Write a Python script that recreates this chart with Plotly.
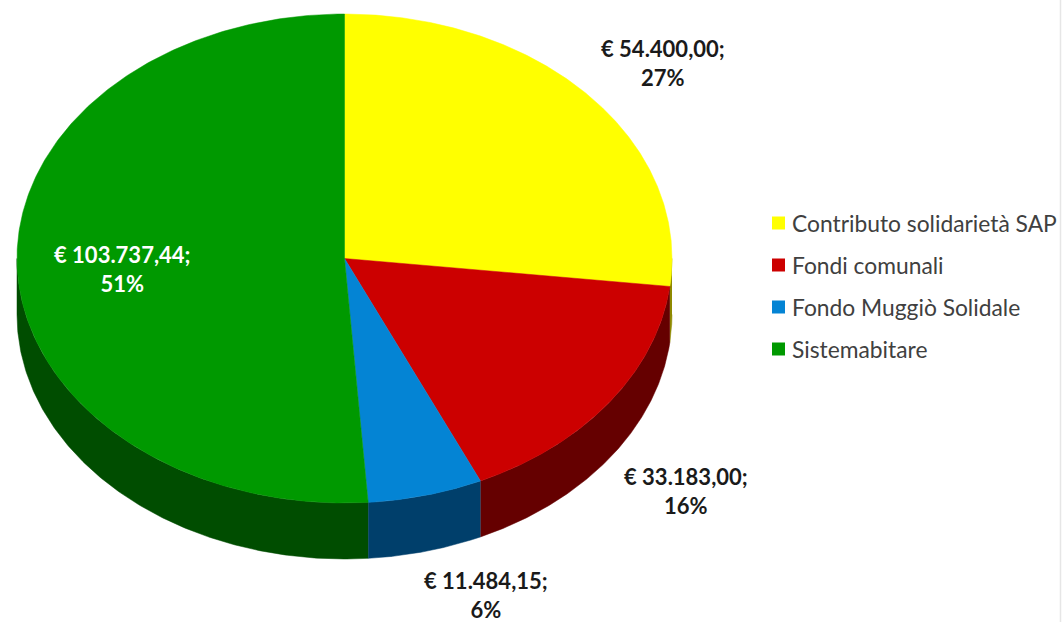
import numpy as np
import plotly.graph_objects as go

categories = ["Contributo solidarietà SAP", "Fondi comunali", "Fondo Muggiò Solidale", "Sistemabitare"]
values = [54400.00, 33183.00, 11484.15, 103737.44]
top_colors = ["#FFFF00", "#CC0000", "#0484D4", "#009900"]
side_colors = ["#8F8A00", "#650000", "#003F6B", "#004D00"]
label_colors = ["#1a1a1a", "#1a1a1a", "#1a1a1a", "#FFFFFF"]
label_pos = [(663, 63), (686, 491), (486, 595), (122, 269)]
legend_y = [223, 265, 307, 349]

CX, CY, RX, RY, DEPTH = 344.5, 258.5, 327.5, 244.5, 56


def rim(t, dy=0.0):
    return CX + RX * np.sin(t), CY - RY * np.cos(t) + dy


def euro(v):
    s = f"{v:,.2f}".replace(",", "X").replace(".", ",").replace("X", ".")
    return f"€ {s};"


fracs = np.array(values) / sum(values)
edges = np.concatenate([[0], np.cumsum(fracs)]) * 2 * np.pi

fig = go.Figure()

# side walls (only the front half of the rim is visible)
for i, col in enumerate(side_colors):
    a, b = max(edges[i], np.pi / 2), min(edges[i + 1], 3 * np.pi / 2)
    if b <= a:
        continue
    t = np.linspace(a, b, 200)
    x1, y1 = rim(t)
    x2, y2 = rim(t[::-1], DEPTH)
    fig.add_trace(go.Scatter(x=np.r_[x1, x2], y=np.r_[y1, y2], mode="lines", fill="toself",
                             fillcolor=col, line=dict(color=col, width=0.5),
                             hoverinfo="skip", showlegend=False))

# top faces
for i, col in enumerate(top_colors):
    t = np.linspace(edges[i], edges[i + 1], 300)
    x, y = rim(t)
    fig.add_trace(go.Scatter(x=np.r_[CX, x, CX], y=np.r_[CY, y, CY], mode="lines", fill="toself",
                             fillcolor=col, line=dict(color=col, width=0.5),
                             name=categories[i], text=f"{euro(values[i])} {fracs[i]*100:.0f}%",
                             hoverinfo="text", showlegend=False))

# key beside the pie
for i, cat in enumerate(categories):
    fig.add_trace(go.Scatter(x=[778.5], y=[legend_y[i]], mode="markers", name=cat,
                             marker=dict(symbol="square", size=13, color=top_colors[i]),
                             hoverinfo="name", showlegend=False))
    fig.add_annotation(x=790, y=legend_y[i], xref="x", yref="y", xanchor="left", showarrow=False,
                       text=cat, font=dict(family="Lato", size=22.8, color="#404040"))

for i, (x, y) in enumerate(label_pos):
    fig.add_annotation(x=x, y=y, xref="x", yref="y", showarrow=False, align="center",
                       text=f"{euro(values[i])}<br>{fracs[i]*100:.0f}%",
                       font=dict(family="Lato", size=22, color=label_colors[i], weight="bold"))

# faint frame edge at the right of the picture
fig.add_shape(type="line", x0=1060.5, x1=1060.5, y0=0, y1=622, xref="x", yref="y",
              line=dict(color="#E6E6E6", width=1.5))

fig.update_layout(
    width=1062, height=622, autosize=False,
    margin=dict(l=0, r=0, t=0, b=0),
    paper_bgcolor="white", plot_bgcolor="white",
    xaxis=dict(range=[0, 1062], visible=False, fixedrange=True),
    yaxis=dict(range=[622, 0], visible=False, fixedrange=True),
    showlegend=False,
)
fig.write_html("out.html", config={"displayModeBar": False},
               post_script="document.body.style.margin='0';document.body.style.overflow='hidden';")
